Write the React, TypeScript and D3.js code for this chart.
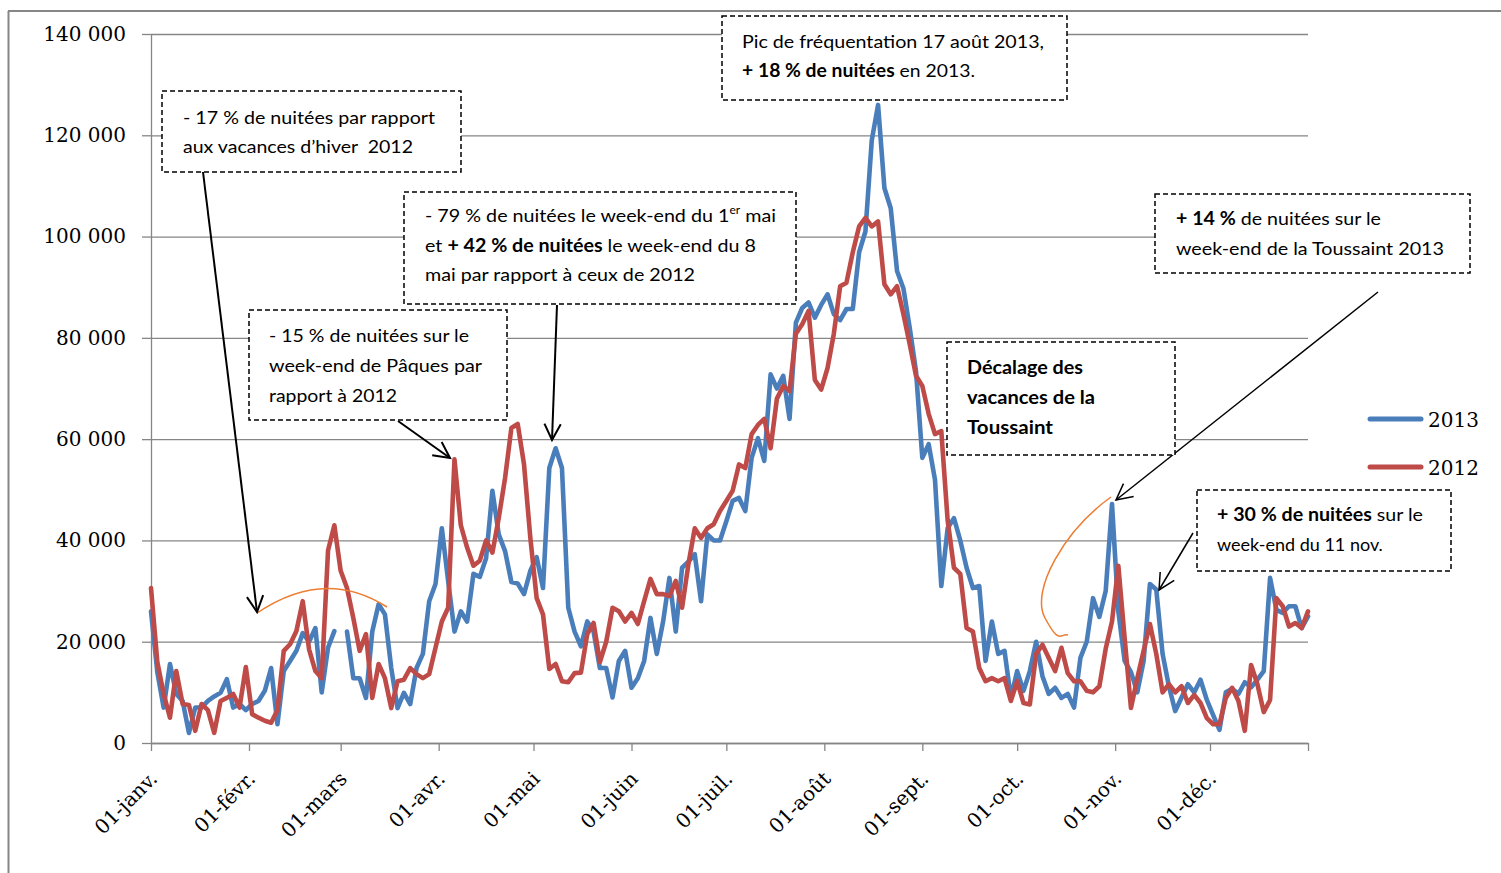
import { useEffect, useRef } from 'react';
import * as d3 from 'd3';

// daily overnight stays, thousands, one reading every 2 days from 1 Jan
const START = new Date(2012, 0, 1);
const END = new Date(2013, 0, 1);
const STEP_DAYS = 2;

const values2013: (number | null)[] = [
  26, 14, 7, 15.6, 9.7, 8.3, 2, 7, 7, 8.3,
  9.2, 9.9, 12.6, 7, 7.7, 6.5, 7.7, 8.3, 10.3, 14.8,
  3.7, 14.2, 16.2, 18.2, 21.7, 20, 22.7, 10, 18.8, 22.1,
  null, 22, 12.8, 12.8, 8.9, 22, 27.4, 25.4, 14.8, 6.9,
  9.9, 7.7, 14.8, 17.6, 28, 31.4, 42.4, 32, 22, 26,
  24, 33.4, 32.8, 36.5, 49.8, 41.2, 37.9, 31.8, 31.5, 29.4,
  34, 36.7, 30.6, 54.3, 58.2, 54.3, 26.7, 22, 19.1, 24,
  22, 14.8, 14.8, 9, 16.2, 18.2, 10.9, 12.8, 16.2, 24.7,
  17.6, 24, 32.6, 22, 34.6, 35.8, 37.3, 28, 41.2, 40,
  40, 43.8, 47.8, 48.4, 45.8, 56.3, 60.2, 55.7, 72.8, 70,
  72.5, 64, 83, 85.9, 87, 84, 86.5, 88.6, 84.7, 83.5,
  85.7, 85.7, 96.9, 101, 119, 126, 109.6, 105.6, 93.2, 89.8,
  82, 73.4, 56.3, 59, 52, 31, 42.4, 44.4, 40, 34.6,
  30.6, 31, 16.2, 24, 17.6, 18.2, 8.9, 14.2, 10.3, 14.2,
  20, 13.2, 9.7, 10.9, 8.9, 9.7, 7, 16.8, 20, 28.6,
  24.9, 30, 47.2, 26, 16.2, 14, 10, 16.2, 31.4, 30.3,
  17.6, 11.2, 6.3, 9, 11.6, 10, 12.5, 8.5, 5.5, 2.6,
  10, 10.7, 9.7, 12, 11, 12.5, 14.2, 32.6, 26.3, 25.7,
  27, 27, 22.7, 25,
];

const values2012: (number | null)[] = [
  30.6, 16, 9.7, 5, 14.2, 7.7, 7.5, 2.4, 7.7, 6.5,
  2, 8.3, 8.9, 9.7, 7, 15, 5.7, 5, 4.4, 4,
  6.5, 18.2, 19.5, 22.1, 28, 18.5, 14.2, 12.8, 38, 43,
  34, 30.6, 24.7, 18.2, 21.5, 8.9, 15.6, 12.8, 6.9, 12.2,
  12.5, 14.8, 13.6, 12.8, 13.6, 18.8, 24, 26.7, 56, 43,
  38.6, 35, 36, 40, 37.6, 44.4, 52.3, 62.2, 63, 55,
  40.5, 28.6, 25.4, 14.6, 15.6, 12.2, 12, 13.8, 13.9, 21.5,
  23.7, 16, 20, 26.7, 26, 24, 25.7, 23.5, 28, 32.4,
  29.4, 29.4, 29, 32, 26.7, 35.3, 42.4, 40.5, 42.4, 43.2,
  45.8, 47.8, 49.8, 55, 54.3, 61, 62.8, 64, 58.2, 68,
  70.5, 69.5, 80.8, 82.7, 85.3, 71.7, 69.8, 74, 80.8, 90.2,
  90.9, 96.9, 102, 103.7, 102, 103, 90.6, 88.6, 90.2, 84.7,
  78.8, 72.5, 70.5, 65, 61, 61.6, 44, 34.6, 33.4, 22.7,
  22, 14.8, 12.2, 12.8, 12.2, 12.8, 8.3, 12.2, 7.9, 7.6,
  17.6, 19.4, 16.8, 14.2, 18.8, 13.8, 12.2, 12.2, 10.3, 10,
  11.2, 18.6, 24, 35, 20.7, 6.9, 12.8, 18.2, 23.5, 17.6,
  10, 11.6, 10, 11.2, 7.9, 9.5, 7.9, 4.9, 3.7, 3.7,
  8.9, 10.9, 8.3, 2.4, 15.4, 11.6, 6.1, 8.5, 28.6, 27,
  23, 23.7, 22.7, 26,
];

const monthLabels = [
  '01-janv.', '01-févr.', '01-mars', '01-avr.', '01-mai', '01-juin',
  '01-juil.', '01-août', '01-sept.', '01-oct.', '01-nov.', '01-déc.',
];
const yTicks = [0, 20000, 40000, 60000, 80000, 100000, 120000, 140000];
const seriesNames = ['2013', '2012'];

const BLUE = '#4A7EBB';
const RED = '#BE4B48';
const GRID = '#868686';
const ORANGE = '#ED7D31';
const SERIF = '"DejaVu Serif", serif';
const SANS = 'Lato, "Open Sans", sans-serif';

type Pt = { date: Date; v: number | null };
type Seg = { t: string; b?: boolean; sup?: boolean };
type Note = { box: number[]; x: number; lines: { y: number; w?: number; segs: Seg[] }[] };

const notes: Note[] = [
  {
    box: [162, 91, 299, 81], x: 183,
    lines: [
      { y: 124, w: 252, segs: [{ t: '- 17 % de nuitées par rapport' }] },
      { y: 153, w: 230, segs: [{ t: 'aux vacances d’hiver  2012' }] },
    ],
  },
  {
    box: [249, 310, 258, 110], x: 269,
    lines: [
      { y: 342, w: 200, segs: [{ t: '- 15 % de nuitées sur le' }] },
      { y: 372, w: 213, segs: [{ t: 'week-end de Pâques par' }] },
      { y: 402, w: 128, segs: [{ t: 'rapport à 2012' }] },
    ],
  },
  {
    box: [404, 192, 392, 112], x: 425,
    lines: [
      { y: 222, w: 351, segs: [{ t: '- 79 % de nuitées le week-end du 1' }, { t: 'er', sup: true }, { t: ' mai' }] },
      { y: 252, w: 331, segs: [{ t: 'et ' }, { t: '+ 42 % de nuitées', b: true }, { t: ' le week-end du 8' }] },
      { y: 281, w: 270, segs: [{ t: 'mai par rapport à ceux de 2012' }] },
    ],
  },
  {
    box: [722, 16, 345, 84], x: 742,
    lines: [
      { y: 48, w: 302, segs: [{ t: 'Pic de fréquentation 17 août 2013,' }] },
      { y: 77, w: 233, segs: [{ t: '+ 18 % de nuitées', b: true }, { t: ' en 2013.' }] },
    ],
  },
  {
    box: [947, 342, 228, 113], x: 967,
    lines: [
      { y: 374, w: 116, segs: [{ t: 'Décalage des', b: true }] },
      { y: 404, w: 128, segs: [{ t: 'vacances de la', b: true }] },
      { y: 434, w: 86, segs: [{ t: 'Toussaint', b: true }] },
    ],
  },
  {
    box: [1155, 194, 315, 79], x: 1176,
    lines: [
      { y: 225, w: 205, segs: [{ t: '+ 14 %', b: true }, { t: ' de nuitées sur le' }] },
      { y: 255, w: 268, segs: [{ t: 'week-end de la Toussaint 2013' }] },
    ],
  },
  {
    box: [1197, 490, 254, 81], x: 1217,
    lines: [
      { y: 521, w: 206, segs: [{ t: '+ 30 % de nuitées', b: true }, { t: ' sur le' }] },
      { y: 551, segs: [{ t: 'week-end du 11 nov.' }] },
    ],
  },
];

const arrows = [
  { from: [203, 172], to: [257, 612], w: 2 },
  { from: [398, 421], to: [450, 458], w: 2 },
  { from: [557, 305], to: [552, 440], w: 2 },
  { from: [1378, 292], to: [1116, 500], w: 1.5 },
  { from: [1193, 533], to: [1159, 590], w: 1.5 },
];

const curves = [
  'M257,613 Q325,567 387,607',
  'M1111,497 C1065,530 1030,590 1045,618 S1060,633 1068,635',
];

function arrowHead(from: number[], to: number[]) {
  const ang = Math.atan2(to[1] - from[1], to[0] - from[0]);
  const len = 18;
  const spread = (27 * Math.PI) / 180;
  const a = [to[0] - len * Math.cos(ang - spread), to[1] - len * Math.sin(ang - spread)];
  const b = [to[0] - len * Math.cos(ang + spread), to[1] - len * Math.sin(ang + spread)];
  return `M${a[0]},${a[1]} L${to[0]},${to[1]} L${b[0]},${b[1]}`;
}

export default function App() {
  const axisRef = useRef<SVGGElement>(null);
  const W = 1501;
  const H = 873;
  const left = 151;
  const right = 1308;
  const bottom = 743;
  const top = 34;

  const x = d3.scaleTime().domain([START, END]).range([left, right]);
  const y = d3.scaleLinear().domain([0, 140000]).range([bottom, top]);

  const toPoints = (vals: (number | null)[]): Pt[] =>
    vals.map((v, i) => ({ date: d3.timeDay.offset(START, i * STEP_DAYS), v: v == null ? null : v * 1000 }));

  const line = d3
    .line<Pt>()
    .defined(d => d.v != null)
    .x(d => x(d.date))
    .y(d => y(d.v as number));

  const series = [
    { name: seriesNames[0], color: BLUE, pts: toPoints(values2013) },
    { name: seriesNames[1], color: RED, pts: toPoints(values2012) },
  ];

  useEffect(() => {
    const g = d3.select(axisRef.current);
    g.selectAll('*').remove();

    const fr = d3.formatLocale({ decimal: ',', thousands: ' ', grouping: [3], currency: ['', ''] });
    const fmt = fr.format(',.0f');

    const grid = g
      .append('g')
      .attr('transform', `translate(${left},0)`)
      .call(d3.axisLeft(y).tickValues(yTicks).tickSize(-(right - left)).tickFormat(() => ''));
    grid.select('.domain').remove();
    grid.selectAll('line').attr('stroke', GRID).attr('stroke-width', 1.3);

    const yAxis = g
      .append('g')
      .attr('transform', `translate(${left},0)`)
      .call(d3.axisLeft(y).tickValues(yTicks).tickSize(9).tickSizeOuter(0).tickPadding(16).tickFormat(d => fmt(d as number)));
    yAxis.select('.domain').attr('stroke', GRID).attr('stroke-width', 1.3);
    yAxis.selectAll('line').attr('stroke', GRID).attr('stroke-width', 1.3);
    yAxis.selectAll('text').attr('font-family', SERIF).attr('font-size', 20).attr('fill', '#000');

    const ticks = d3.timeMonth.range(START, d3.timeDay.offset(END, 1));
    const xAxis = g
      .append('g')
      .attr('transform', `translate(0,${bottom})`)
      .call(
        d3
          .axisBottom(x)
          .tickValues(ticks)
          .tickSize(8)
          .tickSizeOuter(0)
          .tickFormat((_, i) => monthLabels[i] ?? ''),
      );
    xAxis.select('.domain').attr('stroke', GRID).attr('stroke-width', 1.3);
    xAxis.selectAll('line').attr('stroke', GRID).attr('stroke-width', 1.3);
    xAxis
      .selectAll('text')
      .attr('font-family', SERIF)
      .attr('font-size', 20)
      .attr('fill', '#000')
      .attr('text-anchor', 'end')
      .attr('x', 0)
      .attr('y', 0)
      .attr('dy', 0)
      .attr('transform', 'translate(7,37) rotate(-45)');
  }, []);

  return (
    <svg width={W} height={H} style={{ position: 'absolute', left: 0, top: 0, background: '#fff' }}>
      <rect x={0} y={0} width={W} height={H} fill="#fff" />
      <line x1={8.5} y1={11} x2={8.5} y2={H} stroke={GRID} strokeWidth={2} />
      <line x1={8} y1={11} x2={W} y2={11} stroke={GRID} strokeWidth={2} />

      <g ref={axisRef} />

      {series.map(s => (
        <path
          key={s.name}
          d={line(s.pts) ?? ''}
          fill="none"
          stroke={s.color}
          strokeWidth={4.6}
          strokeLinejoin="round"
          strokeLinecap="round"
        />
      ))}

      {series.map((s, i) => (
        <g key={`leg-${s.name}`} transform={`translate(0,${419 + i * 48})`}>
          <line x1={1370} x2={1421} y1={0} y2={0} stroke={s.color} strokeWidth={5} strokeLinecap="round" />
          <text x={1428} y={8} fontFamily={SERIF} fontSize={20} fill="#000">
            {s.name}
          </text>
        </g>
      ))}

      {curves.map((d, i) => (
        <path key={`c${i}`} d={d} fill="none" stroke={ORANGE} strokeWidth={1.5} />
      ))}

      {arrows.map((a, i) => (
        <g key={`a${i}`} stroke="#000" strokeWidth={a.w} fill="none">
          <line x1={a.from[0]} y1={a.from[1]} x2={a.to[0]} y2={a.to[1]} />
          <path d={arrowHead(a.from, a.to)} />
        </g>
      ))}

      {notes.map((n, i) => (
        <g key={`n${i}`}>
          <rect
            x={n.box[0]}
            y={n.box[1]}
            width={n.box[2]}
            height={n.box[3]}
            fill="#fff"
            stroke="#000"
            strokeWidth={1.5}
            strokeDasharray="5 3"
          />
          {n.lines.map((l, j) => (
            <text
              key={j}
              x={n.x}
              y={l.y}
              fontFamily={SANS}
              fontSize={18}
              fill="#000"
              textLength={l.w}
              lengthAdjust={l.w ? 'spacingAndGlyphs' : undefined}
              style={{ whiteSpace: 'pre' }}
            >
              {l.segs.map((s, k) =>
                s.sup ? (
                  <tspan key={k} fontSize={11} dy={-8}>
                    {s.t}
                  </tspan>
                ) : (
                  <tspan key={k} fontWeight={s.b ? 700 : 400} dy={k > 0 && l.segs[k - 1].sup ? 8 : 0}>
                    {s.t}
                  </tspan>
                ),
              )}
            </text>
          ))}
        </g>
      ))}
    </svg>
  );
}
